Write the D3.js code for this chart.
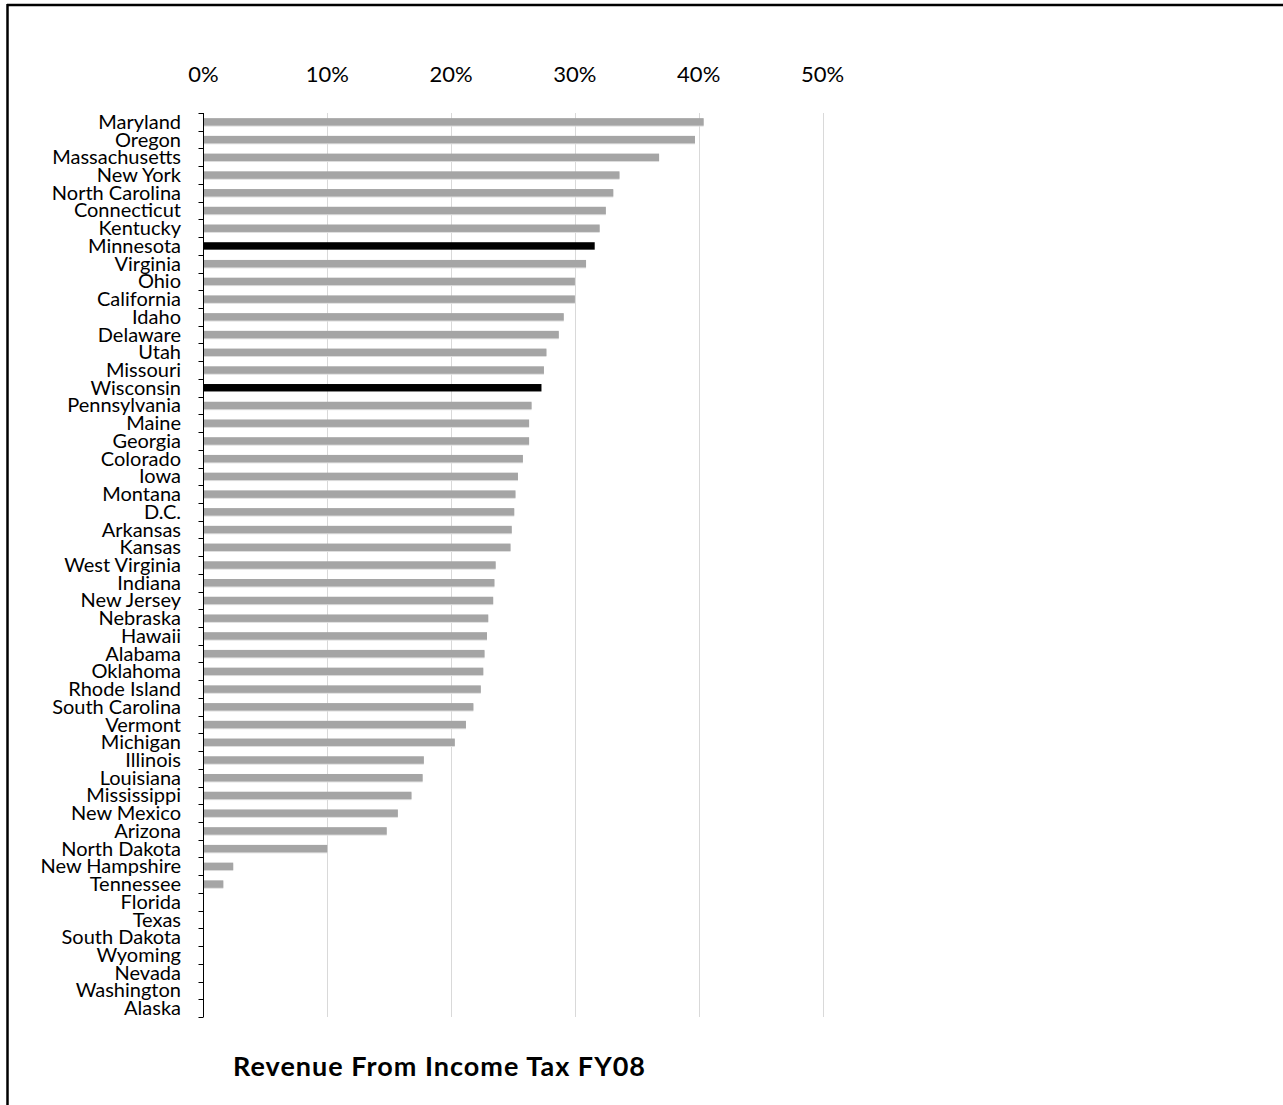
<!DOCTYPE html>
<html>
<head>
<meta charset="utf-8">
<script src="https://cdn.jsdelivr.net/npm/d3@7"></script>
<style>
  html, body { margin: 0; padding: 0; background: #fff; }
  svg { display: block; }
  .lbl { font-family: Lato, "Open Sans", sans-serif; }
</style>
</head>
<body>
<svg id="chart" width="1283" height="1105"></svg>
<script>
// States ranked by share of FY08 revenue from the individual income tax
const states = [
  "Maryland", "Oregon", "Massachusetts", "New York", "North Carolina",
  "Connecticut", "Kentucky", "Minnesota", "Virginia", "Ohio",
  "California", "Idaho", "Delaware", "Utah", "Missouri",
  "Wisconsin", "Pennsylvania", "Maine", "Georgia", "Colorado",
  "Iowa", "Montana", "D.C.", "Arkansas", "Kansas",
  "West Virginia", "Indiana", "New Jersey", "Nebraska", "Hawaii",
  "Alabama", "Oklahoma", "Rhode Island", "South Carolina", "Vermont",
  "Michigan", "Illinois", "Louisiana", "Mississippi", "New Mexico",
  "Arizona", "North Dakota", "New Hampshire", "Tennessee", "Florida",
  "Texas", "South Dakota", "Wyoming", "Nevada", "Washington", "Alaska"
];

// Income tax share of revenue (percent)
const incomeTaxShare = [
  40.4, 39.7, 36.8, 33.6, 33.1,
  32.5, 32.0, 31.6, 30.9, 30.0,
  30.0, 29.1, 28.7, 27.7, 27.5,
  27.3, 26.5, 26.3, 26.3, 25.8,
  25.4, 25.2, 25.1, 24.9, 24.8,
  23.6, 23.5, 23.4, 23.0, 22.9,
  22.7, 22.6, 22.4, 21.8, 21.2,
  20.3, 17.8, 17.7, 16.8, 15.7,
  14.8, 10.0, 2.4, 1.6, 0,
  0, 0, 0, 0, 0, 0
];

// States drawn in black
const highlighted = ["Minnesota", "Wisconsin"];

const xTicks = [0, 10, 20, 30, 40, 50];
const xTickLabels = ["0%", "10%", "20%", "30%", "40%", "50%"];
const axisTitle = "Revenue From Income Tax FY08";

const data = states.map((s, i) => ({ state: s, value: incomeTaxShare[i] }));

const svg = d3.select("#chart");

// Outer frame (top and left edges)
svg.append("line").attr("x1", 7).attr("x2", 1283).attr("y1", 5).attr("y2", 5)
  .attr("stroke", "#000").attr("stroke-width", 2.5);
svg.append("line").attr("x1", 7.5).attr("x2", 7.5).attr("y1", 4).attr("y2", 1105)
  .attr("stroke", "#000").attr("stroke-width", 2.5);

const plotLeft = 203.5, plotTop = 113, plotBottom = 1017;

const x = d3.scaleLinear().domain([0, 50]).range([plotLeft, plotLeft + 619]);
const y = d3.scaleBand().domain(states).range([plotTop, plotBottom])
  .paddingInner(0.58).paddingOuter(0.29);

// Vertical gridlines
svg.append("g").selectAll("line")
  .data(xTicks.filter(t => t > 0))
  .join("line")
  .attr("x1", d => Math.round(x(d)) + 0.5)
  .attr("x2", d => Math.round(x(d)) + 0.5)
  .attr("y1", plotTop).attr("y2", plotBottom)
  .attr("stroke", "#d9d9d9").attr("stroke-width", 1);

// Percent labels above the plot
svg.append("g").selectAll("text")
  .data(xTicks)
  .join("text")
  .attr("class", "lbl")
  .attr("x", d => x(d))
  .attr("y", 82)
  .attr("text-anchor", "middle")
  .attr("font-size", 22)
  .attr("fill", "#000")
  .text((d, i) => xTickLabels[i]);

// Bars with a faint light edge beneath
const bars = svg.append("g");
bars.selectAll("rect.edge")
  .data(data.filter(d => d.value > 0 && !highlighted.includes(d.state)))
  .join("rect")
  .attr("class", "edge")
  .attr("x", x(0))
  .attr("y", d => y(d.state) + 1)
  .attr("width", d => x(d.value) - x(0))
  .attr("height", y.bandwidth())
  .attr("fill", "#dedede");
bars.selectAll("rect.bar")
  .data(data.filter(d => d.value > 0))
  .join("rect")
  .attr("class", "bar")
  .attr("x", x(0))
  .attr("y", d => y(d.state))
  .attr("width", d => x(d.value) - x(0))
  .attr("height", y.bandwidth())
  .attr("fill", d => highlighted.includes(d.state) ? "#000" : "#a5a5a5");

// Category axis with ticks between rows
const boundaries = d3.range(states.length + 1)
  .map(i => plotTop + i * (plotBottom - plotTop) / states.length);
const axisG = svg.append("g");
axisG.append("line")
  .attr("x1", plotLeft).attr("x2", plotLeft).attr("y1", plotTop).attr("y2", plotBottom)
  .attr("stroke", "#000").attr("stroke-width", 1);
axisG.selectAll("line.tick")
  .data(boundaries)
  .join("line")
  .attr("class", "tick")
  .attr("x1", plotLeft - 5).attr("x2", plotLeft)
  .attr("y1", d => Math.round(d) + 0.5).attr("y2", d => Math.round(d) + 0.5)
  .attr("stroke", "#000").attr("stroke-width", 1);

axisG.selectAll("text")
  .data(states)
  .join("text")
  .attr("class", "lbl")
  .attr("x", 181)
  .attr("y", d => y(d) + y.bandwidth() / 2 + 7)
  .attr("text-anchor", "end")
  .attr("font-size", 20)
  .attr("fill", "#000")
  .text(d => d);

// Axis title below the chart
svg.append("text")
  .attr("class", "lbl")
  .attr("x", 439)
  .attr("y", 1076)
  .attr("text-anchor", "middle")
  .attr("font-size", 27)
  .attr("font-weight", "bold")
  .attr("textLength", 412)
  .attr("lengthAdjust", "spacing")
  .attr("fill", "#000")
  .text(axisTitle);
</script>
</body>
</html>
